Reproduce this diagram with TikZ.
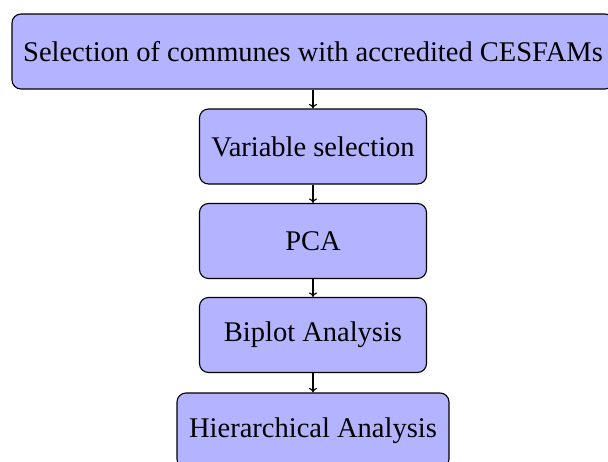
\documentclass[tikz,border=0pt]{standalone}
\usepackage{fontspec}
\setmainfont{Liberation Serif}
\usetikzlibrary{positioning,arrows.meta}
\definecolor{boxfill}{RGB}{179,179,255}
\tikzset{
  stepbox/.style={draw=black, fill=boxfill, rounded corners=9pt, line width=1.1pt,
    minimum width=227pt, minimum height=75pt, inner xsep=4pt, align=center,
    font=\fontsize{28.5}{34}\selectfont},
  flowarrow/.style={-{To[length=4.5pt,width=8pt]}, line width=1.1pt}
}
\begin{document}
\begin{tikzpicture}[x=1pt,y=1pt]
\useasboundingbox (0,0) rectangle (608,-461);
\clip (0,0) rectangle (608,-461);
\node[stepbox, minimum width=602pt] (s1) at (313,-51.5) {Selection of communes with accredited CESFAMs};
\node[stepbox] (s2) at (313,-146.5) {Variable selection};
\node[stepbox] (s3) at (313,-241) {PCA};
\node[stepbox] (s4) at (313,-335) {Biplot Analysis};
\node[stepbox, minimum width=272pt] (s5) at (313,-430.5) {Hierarchical Analysis};
\draw[flowarrow] (s1) -- (s2);
\draw[flowarrow] (s2) -- (s3);
\draw[flowarrow] (s3) -- (s4);
\draw[flowarrow] (s4) -- (s5);
\end{tikzpicture}
\end{document}
